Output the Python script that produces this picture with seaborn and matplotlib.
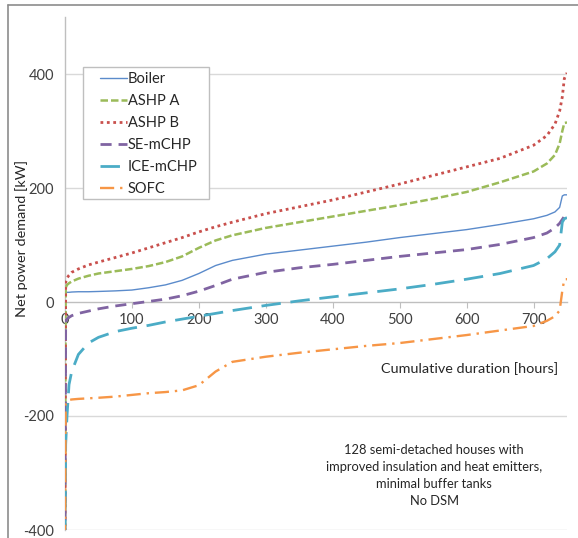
import matplotlib
matplotlib.use("Agg")
import matplotlib.pyplot as plt
from matplotlib.lines import Line2D
from matplotlib.patches import Rectangle
from matplotlib.legend_handler import HandlerLine2D
import numpy as np
import seaborn as sns
import pandas as pd

# ---------------- data ----------------
hours = [0, 1, 3, 6, 10, 20, 35, 50, 75, 100, 125, 150, 175, 200, 225, 250,
         300, 350, 400, 450, 500, 550, 600, 650, 700, 720, 732, 739, 743, 746, 750]

boiler = [17, 17, 17, 17, 17.5, 18, 18, 18.5, 19.5, 21, 25, 30, 38, 50, 64, 73,
          84, 91, 98, 105, 113, 120, 127, 136, 146, 152, 158, 166, 186, 188, 188]
ashp_a = [-420, 25, 30, 33, 36, 41, 46, 50, 54, 58, 63, 70, 80, 95, 108, 117,
          130, 140, 150, 160, 170, 181, 193, 210, 229, 243, 258, 278, 300, 314, 315]
ashp_b = [-420, 35, 42, 47, 52, 58, 65, 70, 78, 86, 95, 104, 113, 123, 132, 140,
          155, 167, 179, 193, 207, 222, 237, 252, 275, 292, 312, 335, 360, 392, 402]
se_mchp = [-420, -34, -30, -27, -24, -20, -16, -12, -7, -3, 1, 5, 11, 19, 29, 40,
           52, 60, 66, 73, 80, 86, 92, 101, 113, 121, 130, 138, 145, 150, 153]
ice_mchp = [-420, -250, -200, -145, -122, -92, -72, -62, -52, -46, -41, -35, -30, -25, -20, -15,
            -6, 2, 9, 16, 23, 31, 40, 50, 64, 76, 88, 100, 140, 146, 148]
sofc = [-420, -178, -174, -172, -171, -170, -169, -168, -166, -163, -160, -158, -155, -146, -122, -105,
        -96, -89, -83, -77, -72, -65, -58, -50, -42, -33, -25, -15, 20, 40, 40]

series_names = ["Boiler", "ASHP A", "ASHP B", "SE-mCHP", "ICE-mCHP", "SOFC"]
series_vals = [boiler, ashp_a, ashp_b, se_mchp, ice_mchp, sofc]

yticks = [-400, -200, 0, 200, 400]
xticks = [0, 100, 200, 300, 400, 500, 600, 700]
note_lines = ["128 semi-detached houses with",
              "improved insulation and heat emitters,",
              "minimal buffer tanks",
              "No DSM"]

rows = []
for name, vals in zip(series_names, series_vals):
    for h, v in zip(hours, vals):
        rows.append({"hours": h, "kW": v, "series": name})
df = pd.DataFrame(rows)

# ---------------- style ----------------
sns.set_theme(style="white")
plt.rcParams["font.family"] = ["Lato", "DejaVu Sans"]
text_col = "#404040"

colors = {"Boiler": "#5B8BCB", "ASHP A": "#9BBB59", "ASHP B": "#C9504D",
          "SE-mCHP": "#8064A2", "ICE-mCHP": "#4BACC6", "SOFC": "#F79646"}
dashes = {"Boiler": "", "ASHP A": (3, 1.2), "ASHP B": (1, 1.3),
          "SE-mCHP": (4, 2.5), "ICE-mCHP": (7, 3.5), "SOFC": (6, 2.5, 1, 2.5)}
widths = {"Boiler": 1.0, "ASHP A": 1.8, "ASHP B": 2.0,
          "SE-mCHP": 2.0, "ICE-mCHP": 2.0, "SOFC": 1.7}

W, H = 578, 538
fig = plt.figure(figsize=(W / 100, H / 100), dpi=100)
ax = fig.add_axes([65 / W, 1 - 530 / H, (567 - 65) / W, (530 - 17) / H])

sns.lineplot(data=df, x="hours", y="kW", hue="series", style="series",
             palette=colors, dashes=dashes, hue_order=series_names,
             style_order=series_names, estimator=None, sort=True,
             legend=False, ax=ax)
for line, name in zip(ax.lines, series_names):
    line.set_linewidth(widths[name])
    line.set_zorder(3)

ax.set_xlim(0, 750)
ax.set_ylim(-400, 500)
ax.set_yticks(yticks)
ax.set_xticks(xticks)
ax.set_xlabel("")
ax.set_ylabel("")

grid_col = "#D9D9D9"
ax.grid(False)
for yv in yticks:
    if yv != 0:
        ax.axhline(yv, color=grid_col, lw=1.0, zorder=0)

for s in ["top", "right"]:
    ax.spines[s].set_visible(False)
ax.spines["bottom"].set_position(("data", 0))
ax.spines["bottom"].set_color("#BFBFBF")
ax.spines["bottom"].set_linewidth(1.0)
ax.spines["left"].set_color("#BFBFBF")
ax.spines["left"].set_linewidth(1.0)

ax.tick_params(axis="x", direction="out", length=4, width=0.8, color="#BFBFBF",
               pad=4, labelsize=10.5, labelcolor=text_col, bottom=True)
ax.tick_params(axis="y", length=0, pad=8, labelsize=10.5, labelcolor=text_col, left=False)
ax.set_xticklabels([str(v) for v in xticks])
ax.set_yticklabels([str(v) for v in yticks])

# axis titles
fig.text(22 / W, 1 - 239 / H, "Net power demand [kW]", rotation=90,
         ha="center", va="center", fontsize=10.4, color="#262626")
fig.text(558 / W, 1 - 369 / H, "Cumulative duration [hours]",
         ha="right", va="center", fontsize=10.4, color="#262626")

# annotation
for i, t in enumerate(note_lines):
    fig.text(434 / W, 1 - (450 + i * 17) / H, t, ha="center", va="center",
             fontsize=9.3, color="#262626")


# legend (handles drawn in right part of handle box, Excel style)
class RightHandler(HandlerLine2D):
    def get_xdata(self, legend, xdescent, ydescent, width, height, fontsize):
        x = np.array([-xdescent + 0.29 * width, -xdescent + width])
        return x, x


fs = 10.5
# legend frame drawn as a separate box
box = Rectangle((83 / W, 1 - 199 / H), (209 - 83) / W, (199 - 67) / H,
                transform=fig.transFigure, facecolor="white",
                edgecolor="#BFBFBF", lw=1.0, zorder=6, clip_on=False)
ax.add_artist(box)
leg = ax.legend(handles=list(ax.lines[:6]), labels=series_names,
                loc="upper left", bbox_to_anchor=(89.5 / W, 1 - 72 / H),
                bbox_transform=fig.transFigure, borderaxespad=0, borderpad=0,
                frameon=False, fontsize=fs, handlelength=2.57,
                handletextpad=0.07, labelspacing=0.55,
                handler_map={Line2D: RightHandler()})
leg.set_zorder(7)
for t in leg.get_texts():
    t.set_color("#262626")

# outer border of the chart area
fig.add_artist(Line2D([8 / W, 1], [1 - 5 / H, 1 - 5 / H], transform=fig.transFigure,
                      color="#8C8C8C", lw=1.2))
fig.add_artist(Line2D([8 / W, 8 / W], [0, 1 - 5 / H], transform=fig.transFigure,
                      color="#8C8C8C", lw=1.2))

fig.savefig("out.png", dpi=100, facecolor="white")
